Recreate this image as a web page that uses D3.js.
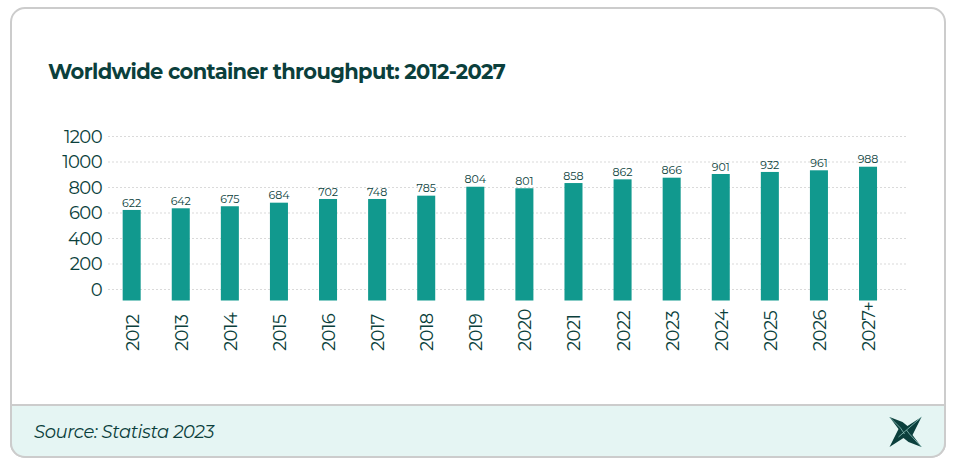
<!DOCTYPE html>
<html>
<head>
<meta charset="utf-8">
<script src="https://cdn.jsdelivr.net/npm/d3@7"></script>
<style>
  html, body { margin: 0; padding: 0; background: #fff; }
  svg { display: block; }
  text { font-family: "Montserrat", Lato, "Open Sans", sans-serif; fill: #0b3f3c; }
</style>
</head>
<body>
<div id="chart"></div>
<script>
// label = number printed on the bar, value = height of the bar read against the axis
var data = [
  {year: '2012', label: 622, value: 620},
  {year: '2013', label: 642, value: 633},
  {year: '2014', label: 675, value: 649},
  {year: '2015', label: 684, value: 677},
  {year: '2016', label: 702, value: 706},
  {year: '2017', label: 748, value: 706},
  {year: '2018', label: 785, value: 732},
  {year: '2019', label: 804, value: 802},
  {year: '2020', label: 801, value: 790},
  {year: '2021', label: 858, value: 831},
  {year: '2022', label: 862, value: 860},
  {year: '2023', label: 866, value: 873},
  {year: '2024', label: 901, value: 902},
  {year: '2025', label: 932, value: 918},
  {year: '2026', label: 961, value: 931},
  {year: '2027+', label: 988, value: 959}
];

var width = 958, height = 466;
var svg = d3.select('#chart').append('svg')
  .attr('width', width)
  .attr('height', height);

// Card
svg.append('rect')
  .attr('x', 11).attr('y', 8)
  .attr('width', 934).attr('height', 449)
  .attr('rx', 14)
  .attr('fill', '#fff')
  .attr('stroke', '#cccccc')
  .attr('stroke-width', 2);

// Footer band
svg.append('path')
  .attr('d', 'M11,405 H945 V443 A14,14 0 0 1 931,457 H25 A14,14 0 0 1 11,443 Z')
  .attr('fill', '#e5f5f3')
  .attr('stroke', '#cccccc')
  .attr('stroke-width', 2);

svg.append('text')
  .attr('x', 48).attr('y', 79)
  .style('font-size', '21px')
  .style('font-weight', 700)
  .style('letter-spacing', '-0.66px')
  .text('Worldwide container throughput: 2012-2027');

svg.append('text')
  .attr('x', 34).attr('y', 438)
  .style('font-size', '18px')
  .style('font-style', 'italic')
  .style('letter-spacing', '-0.4px')
  .text('Source: Statista 2023');

// Scales
var y = d3.scaleLinear().domain([0, 1200]).range([289, 136]);
var x = d3.scaleBand()
  .domain(data.map(function(d) { return d.year; }))
  .range([107.2, 892.5])
  .paddingInner(0.633)
  .paddingOuter(0.315);
var barBottom = 300.5;

// Grid and y labels
var yAxis = svg.append('g')
  .attr('transform', 'translate(108,0)')
  .call(d3.axisLeft(y)
    .tickValues(d3.range(0, 1201, 200))
    .tickFormat(d3.format('d'))
    .tickSize(-799)
    .tickPadding(6));
yAxis.select('.domain').remove();
yAxis.selectAll('line')
  .attr('stroke', '#dadada')
  .attr('stroke-width', 1.2)
  .attr('stroke-dasharray', '2 2');
yAxis.selectAll('text')
  .attr('dy', '0.36em')
  .style('font-size', '18px')
  .style('letter-spacing', '-0.6px');

// Bars
svg.append('g').selectAll('rect')
  .data(data)
  .join('rect')
  .attr('x', function(d) { return x(d.year); })
  .attr('y', function(d) { return y(d.value); })
  .attr('width', x.bandwidth())
  .attr('height', function(d) { return barBottom - y(d.value); })
  .attr('fill', '#11998e');

// Value labels
svg.append('g').selectAll('text')
  .data(data)
  .join('text')
  .attr('x', function(d) { return x(d.year) + x.bandwidth() / 2; })
  .attr('y', function(d) { return y(d.value) - 3.3; })
  .attr('text-anchor', 'middle')
  .style('font-size', '11px')
  .text(function(d) { return d.label; });

// Year labels
svg.append('g').selectAll('text')
  .data(data)
  .join('text')
  .attr('transform', function(d) {
    return 'translate(' + (x(d.year) + x.bandwidth() / 2 + 7) + ',351) rotate(-90)';
  })
  .attr('text-anchor', 'start')
  .style('font-size', '18px')
  .style('letter-spacing', '-0.6px')
  .text(function(d) { return d.year; });

// Logo
var logo = svg.append('g').attr('transform', 'translate(905.5,432)');
logo.append('path')
  .attr('d', 'M-16,-15 L-3,-10 L2,-6 L16,-15 L10,-3 L7,3 L16,15 L3,10 L-2,6 L-16,15 L-10,3 L-7,-3 Z')
  .attr('fill', '#0b3f3c');
logo.append('path')
  .attr('d', 'M-16,-15 L-5,-4 L-1,2 M16,-15 L-7,5 M16,15 L4,2 L1,-2')
  .attr('stroke', '#8cc0ba')
  .attr('stroke-width', 0.8)
  .attr('fill', 'none');
</script>
</body>
</html>
